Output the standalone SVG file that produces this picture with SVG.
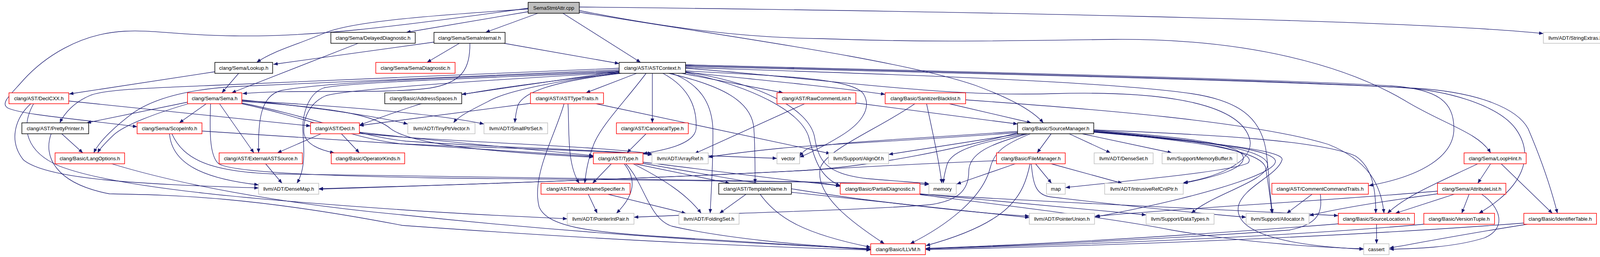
<svg xmlns="http://www.w3.org/2000/svg" width="4120" height="659" viewBox="0 0 4120 659">
<defs>
<marker id="ah" markerWidth="11" markerHeight="9" refX="11" refY="4.5" orient="auto" markerUnits="userSpaceOnUse"><path d="M0,0 L11,4.5 L0,9 z" fill="#191970"/></marker>
<style>
.node rect{fill:#fff;stroke-width:1.5}
.node.r rect{stroke:#ff0000}
.node.k rect{stroke:#000}
.node.g rect{stroke:#bfbfbf}
.node.root rect{fill:#bfbfbf;stroke:#000}
.node text{font-family:"Liberation Sans",Arial,Helvetica,sans-serif;font-size:13px;text-anchor:middle;fill:#000}
.edges path{fill:none;stroke:#191970;stroke-width:1.3;marker-end:url(#ah)}
</style>
</defs>
<rect x="0" y="0" width="4120" height="659" fill="#fff"/>
<g id="edges" class="edges">
<path d="M1483,18 C2400,28 3600,50 3951,86"/>
<path d="M1483,27 C1700,70 1900,97 2100,99 C2400,110 2600,104 2850,101 C3200,98 3450,170 3600,260 C3700,320 3785,340 3816,392"/>
<path d="M1483,31 C1800,85 2300,150 2500,220 C2580,250 2640,280 2671,315"/>
<path d="M1441,34 L1640,160"/>
<path d="M1377,34 L1243,83"/>
<path d="M1352,30 L1040,83"/>
<path d="M1352,23 C1100,40 900,55 830,85 C760,115 700,130 657,160"/>
<path d="M1352,21 C1000,70 800,95 600,92 C450,90 390,76 320,80 C200,86 110,150 60,205 C25,245 0,265 20,277 C60,295 200,305 351,325"/>
<path d="M1111,108 L700,165"/>
<path d="M1176,111 L1093,160"/>
<path d="M1203,111 C1203,175 1185,212 1100,226 C980,242 760,228 621,240"/>
<path d="M1290,111 L1585,163"/>
<path d="M917,111 L593,238"/>
<path d="M550,184 L177,241"/>
<path d="M611,188 L568,238"/>
<path d="M480,262 L222,315"/>
<path d="M528,266 L459,315"/>
<path d="M482,266 C400,290 320,320 292,345 C272,364 256,380 250,392"/>
<path d="M1585,179 C1200,195 800,212 600,222 C470,230 390,255 340,290 C300,320 255,360 240,392"/>
<path d="M562,266 L650,392"/>
<path d="M1585,182 C1200,198 850,208 720,232 C670,245 660,300 662,392"/>
<path d="M539,266 C537,330 535,400 560,420 C600,445 900,452 1100,456 C1600,462 2100,465 2378,473"/>
<path d="M434,343 C440,420 520,458 662,474"/>
<path d="M440,343 C470,410 540,440 700,446 C1300,455 1900,462 2060,466 C2100,468 2130,473 2151,478"/>
<path d="M517,336 L1519,401"/>
<path d="M619,256 C800,275 950,295 1044,318"/>
<path d="M619,258 C800,268 1100,288 1239,318"/>
<path d="M619,260 C850,275 960,295 1000,330 C1060,375 1300,392 1519,403"/>
<path d="M619,264 C800,300 920,350 1040,362 C1300,380 1550,384 1669,397"/>
<path d="M619,266 C800,305 900,355 1030,369 C1400,385 1800,398 1989,406"/>
<path d="M822,343 L710,392"/>
<path d="M874,343 L920,392"/>
<path d="M920,339 C1100,360 1350,382 1519,399"/>
<path d="M920,342 C1150,365 1500,372 1669,394"/>
<path d="M176,259 L795,323"/>
<path d="M79,266 C40,300 20,360 60,410 C120,460 350,472 662,482"/>
<path d="M86,266 C50,330 70,390 150,425 C300,485 700,515 1030,538 C1200,550 1350,556 1452,561"/>
<path d="M158,343 L212,392"/>
<path d="M131,343 C110,400 140,470 280,497 C450,500 650,505 1030,578 C1500,612 1900,632 2229,641"/>
<path d="M286,420 C450,470 700,520 1030,551 C1400,590 1800,620 2229,638"/>
<path d="M680,420 L722,470"/>
<path d="M1585,175 C1300,185 900,205 591,217 C400,225 270,228 230,245 C190,262 165,290 153,315"/>
<path d="M1585,184 C1250,200 900,210 830,225 C785,240 775,300 775,330 C777,370 785,430 760,470"/>
<path d="M1585,186 C1250,205 900,228 835,245 C795,262 775,300 778,340 C781,370 820,385 856,392"/>
<path d="M1585,183 L1182,242"/>
<path d="M1630,188 L1500,238"/>
<path d="M1670,188 L1670,315"/>
<path d="M1585,186 C1450,205 1300,230 1250,260 C1200,285 1172,300 1161,315"/>
<path d="M1590,188 C1420,208 1340,235 1326,270 C1320,290 1319,302 1318,315"/>
<path d="M1585,187 C1350,215 1150,240 1050,275 C990,295 950,310 920,321"/>
<path d="M1697,188 C1760,222 1785,270 1782,330 C1778,370 1700,385 1646,394"/>
<path d="M1654,188 C1600,260 1540,320 1520,370 C1505,410 1500,440 1497,470"/>
<path d="M1454,266 C1458,330 1450,420 1483,470"/>
<path d="M1444,266 C1420,350 1360,450 1380,530 C1400,580 1500,595 1700,607 C1900,620 2100,632 2229,640"/>
<path d="M1712,188 C1850,220 1925,260 1930,330 C1933,380 1933,420 1933,470"/>
<path d="M1720,188 C1790,215 1822,262 1825,330 C1826,420 1820,500 1818,547"/>
<path d="M1745,188 L2005,238"/>
<path d="M1755,185 C1950,205 2150,225 2266,242"/>
<path d="M1755,182 C2000,195 2180,200 2210,240 C2235,280 2200,320 2150,350 C2100,380 2065,396 2047,403"/>
<path d="M1755,184 C1950,215 2070,280 2085,350 C2095,410 2110,445 2220,458 C2300,465 2350,468 2378,471"/>
<path d="M1755,186 C1940,225 2050,290 2070,350 C2085,410 2100,455 2151,476"/>
<path d="M1755,166 C2300,180 3200,200 3560,220 C3680,228 3722,260 3722,330 C3722,400 3640,452 3504,476"/>
<path d="M1755,168 C2300,182 3200,202 3580,224 C3720,232 3840,275 3880,330 C3930,400 3900,480 3786,547"/>
<path d="M1755,170 C2300,184 3200,204 3620,226 C3790,236 3885,280 3912,330 C3942,400 3970,480 3987,547"/>
<path d="M1755,175 C2100,200 2400,250 2700,240 C3000,232 3180,270 3200,360 C3210,420 3100,458 3030,468"/>
<path d="M1755,173 C2200,188 2800,205 3050,240 C3170,258 3225,300 3240,380 C3248,430 3250,500 3258,547"/>
<path d="M3816,420 L3783,470"/>
<path d="M3783,420 C3700,460 3600,500 3552,547"/>
<path d="M3843,420 L3974,547"/>
<path d="M3680,490 C3400,515 3000,535 2802,555"/>
<path d="M3680,497 C3550,515 3420,535 3352,553"/>
<path d="M3723,498 L3572,547"/>
<path d="M3761,498 L3742,547"/>
<path d="M3793,498 C3840,530 3860,585 3800,610 C3720,635 3620,638 3557,639"/>
<path d="M3359,498 L3294,547"/>
<path d="M3380,498 C3385,540 3380,575 3300,590 C3000,612 2600,630 2370,638"/>
<path d="M3524,575 L3524,625"/>
<path d="M3426,574 C3100,600 2700,625 2370,637"/>
<path d="M3645,575 C3300,606 2800,626 2370,638"/>
<path d="M3901,572 C3400,610 2800,631 2370,640"/>
<path d="M3910,575 C3750,600 3620,625 3557,636"/>
<path d="M2691,343 L2655,392"/>
<path d="M2737,343 L2843,392"/>
<path d="M2770,343 L3000,392"/>
<path d="M2612,343 L2275,396"/>
<path d="M2625,343 C2520,365 2440,380 2425,420 C2418,445 2415,460 2415,470"/>
<path d="M2605,337 C2350,355 2120,365 2070,380 C2058,386 2052,393 2047,401"/>
<path d="M2605,340 C2350,360 2100,370 2000,380 C1900,390 1850,397 1813,403"/>
<path d="M2605,341 C2450,380 2250,425 2060,437 C1700,456 1200,473 816,485"/>
<path d="M2551,412 C2400,418 2250,425 2060,437 C1700,456 1200,473 816,484"/>
<path d="M2631,343 C2530,370 2480,395 2480,440 C2480,490 2450,515 2380,525 C2200,540 1800,548 1623,557"/>
<path d="M2638,343 C2570,370 2545,390 2535,430 C2515,510 2420,580 2330,625"/>
<path d="M2800,333 C3100,345 3380,360 3470,400 C3515,430 3522,490 3522,547"/>
<path d="M2800,334 C3000,350 3170,365 3182,400 C3192,430 3120,452 3029,470"/>
<path d="M2800,337 C3100,360 3250,385 3245,425 C3240,465 3100,500 3050,547"/>
<path d="M2800,338 C3100,362 3270,385 3265,415 C3260,450 3050,510 2805,556"/>
<path d="M2800,338 C3100,365 3230,390 3240,430 C3248,480 3254,520 3256,547"/>
<path d="M2800,339 C3100,365 3290,385 3282,410 C3270,450 3180,480 3170,530 C3160,600 3300,630 3491,639"/>
<path d="M2800,336 C3100,360 3220,390 3195,418 C3150,440 2900,462 2728,481"/>
<path d="M2599,420 L2449,472"/>
<path d="M2651,420 L2692,470"/>
<path d="M2691,420 L2873,470"/>
<path d="M2637,420 C2620,500 2590,570 2370,630"/>
<path d="M2640,420 C2645,470 2650,500 2690,505 C2900,530 3050,545 3190,557"/>
<path d="M2430,266 L2640,315"/>
<path d="M2342,266 C2250,330 2120,380 2100,430 C2085,500 2180,570 2264,625"/>
<path d="M2372,266 C2390,350 2405,420 2411,470"/>
<path d="M2472,256 C2800,280 3200,310 3400,370 C3500,410 3535,470 3543,547"/>
<path d="M2191,264 L2605,318"/>
<path d="M2060,266 L1778,394"/>
<path d="M1358,265 L920,322"/>
<path d="M1526,266 L2126,394"/>
<path d="M1654,343 L1605,392"/>
<path d="M1565,420 L1517,470"/>
<path d="M1598,420 C1630,460 1625,500 1578,547"/>
<path d="M1602,420 C1650,470 1660,560 1720,580 C1850,610 2050,630 2229,638"/>
<path d="M1621,420 C1700,460 1760,500 1795,547"/>
<path d="M1625,420 L1868,470"/>
<path d="M1646,416 C1850,440 2000,462 2151,476"/>
<path d="M1646,419 C1850,455 2050,490 2200,510 C2400,535 2550,550 2635,554"/>
<path d="M1910,498 L1842,547"/>
<path d="M1946,498 C1990,560 2060,600 2229,634"/>
<path d="M2026,493 C2250,515 2450,540 2635,558"/>
<path d="M1506,498 L1529,547"/>
<path d="M1556,498 L1756,547"/>
<path d="M2355,497 C2600,520 2800,540 2934,551"/>
<path d="M2355,498 C2800,525 3200,540 3426,553"/>
<path d="M2355,499 C2600,530 2850,560 3000,590 C3200,625 3400,635 3491,638"/>
</g>
<g id="n_root" class="node root"><rect x="1352" y="6" width="131" height="28"/><text x="1417.5" y="24.5">SemaStmtAttr.cpp</text></g>
<g id="n_delayeddiag" class="node k"><rect x="847" y="83" width="216" height="28"/><text x="955" y="101.5">clang/Sema/DelayedDiagnostic.h</text></g>
<g id="n_semainternal" class="node k"><rect x="1111" y="83" width="182" height="28"/><text x="1202" y="101.5">clang/Sema/SemaInternal.h</text></g>
<g id="n_stringextras" class="node g"><rect x="3951" y="83" width="164" height="28"/><text x="4033" y="101.5">llvm/ADT/StringExtras.h</text></g>
<g id="n_lookup" class="node k"><rect x="550" y="160" width="148" height="28"/><text x="624" y="178.5">clang/Sema/Lookup.h</text></g>
<g id="n_semadiag" class="node r"><rect x="962" y="160" width="203" height="28"/><text x="1063.5" y="178.5">clang/Sema/SemaDiagnostic.h</text></g>
<g id="n_astcontext" class="node k"><rect x="1585" y="160" width="170" height="28"/><text x="1670" y="178.5">clang/AST/ASTContext.h</text></g>
<g id="n_declcxx" class="node r"><rect x="23" y="238" width="153" height="28"/><text x="99.5" y="256.5">clang/AST/DeclCXX.h</text></g>
<g id="n_sema" class="node r"><rect x="480" y="238" width="139" height="28"/><text x="549.5" y="256.5">clang/Sema/Sema.h</text></g>
<g id="n_addrspaces" class="node k"><rect x="985" y="238" width="197" height="28"/><text x="1083.5" y="256.5">clang/Basic/AddressSpaces.h</text></g>
<g id="n_asttypetraits" class="node r"><rect x="1358" y="238" width="187" height="28"/><text x="1451.5" y="256.5">clang/AST/ASTTypeTraits.h</text></g>
<g id="n_rawcomment" class="node r"><rect x="1989" y="238" width="202" height="28"/><text x="2090" y="256.5">clang/AST/RawCommentList.h</text></g>
<g id="n_sanitizer" class="node r"><rect x="2266" y="238" width="206" height="28"/><text x="2369" y="256.5">clang/Basic/SanitizerBlacklist.h</text></g>
<g id="n_prettyprinter" class="node k"><rect x="56" y="315" width="171" height="28"/><text x="141.5" y="333.5">clang/AST/PrettyPrinter.h</text></g>
<g id="n_scopeinfo" class="node r"><rect x="351" y="315" width="166" height="28"/><text x="434" y="333.5">clang/Sema/ScopeInfo.h</text></g>
<g id="n_decl" class="node r"><rect x="795" y="315" width="125" height="28"/><text x="857.5" y="333.5">clang/AST/Decl.h</text></g>
<g id="n_tinyptrvector" class="node g"><rect x="1044" y="315" width="172" height="28"/><text x="1130" y="333.5">llvm/ADT/TinyPtrVector.h</text></g>
<g id="n_smallptrset" class="node g"><rect x="1239" y="315" width="163" height="28"/><text x="1320.5" y="333.5">llvm/ADT/SmallPtrSet.h</text></g>
<g id="n_canonicaltype" class="node r"><rect x="1578" y="315" width="184" height="28"/><text x="1670" y="333.5">clang/AST/CanonicalType.h</text></g>
<g id="n_sourcemanager" class="node k"><rect x="2605" y="315" width="195" height="28"/><text x="2702.5" y="333.5">clang/Basic/SourceManager.h</text></g>
<g id="n_langoptions" class="node r"><rect x="141" y="392" width="178" height="28"/><text x="230" y="410.5">clang/Basic/LangOptions.h</text></g>
<g id="n_externalast" class="node r"><rect x="561" y="392" width="213" height="28"/><text x="667.5" y="410.5">clang/AST/ExternalASTSource.h</text></g>
<g id="n_operatorkinds" class="node r"><rect x="848" y="392" width="188" height="28"/><text x="942" y="410.5">clang/Basic/OperatorKinds.h</text></g>
<g id="n_type" class="node r"><rect x="1519" y="392" width="127" height="28"/><text x="1582.5" y="410.5">clang/AST/Type.h</text></g>
<g id="n_arrayref" class="node g"><rect x="1669" y="392" width="144" height="28"/><text x="1741" y="410.5">llvm/ADT/ArrayRef.h</text></g>
<g id="n_vector" class="node g"><rect x="1989" y="392" width="58" height="28"/><text x="2018" y="410.5">vector</text></g>
<g id="n_alignof" class="node g"><rect x="2121" y="392" width="154" height="28"/><text x="2198" y="410.5">llvm/Support/AlignOf.h</text></g>
<g id="n_filemanager" class="node r"><rect x="2551" y="392" width="176" height="28"/><text x="2639" y="410.5">clang/Basic/FileManager.h</text></g>
<g id="n_denseset" class="node g"><rect x="2801" y="392" width="151" height="28"/><text x="2876.5" y="410.5">llvm/ADT/DenseSet.h</text></g>
<g id="n_memorybuffer" class="node g"><rect x="2975" y="392" width="192" height="28"/><text x="3071" y="410.5">llvm/Support/MemoryBuffer.h</text></g>
<g id="n_loophint" class="node r"><rect x="3748" y="392" width="159" height="28"/><text x="3827.5" y="410.5">clang/Sema/LoopHint.h</text></g>
<g id="n_densemap" class="node g"><rect x="662" y="470" width="154" height="28"/><text x="739" y="488.5">llvm/ADT/DenseMap.h</text></g>
<g id="n_nns" class="node r"><rect x="1385" y="470" width="228" height="28"/><text x="1499" y="488.5">clang/AST/NestedNameSpecifier.h</text></g>
<g id="n_templatename" class="node k"><rect x="1840" y="470" width="186" height="28"/><text x="1933" y="488.5">clang/AST/TemplateName.h</text></g>
<g id="n_partialdiag" class="node r"><rect x="2151" y="470" width="204" height="28"/><text x="2253" y="488.5">clang/Basic/PartialDiagnostic.h</text></g>
<g id="n_memory" class="node g"><rect x="2378" y="470" width="70" height="28"/><text x="2413" y="488.5">memory</text></g>
<g id="n_map" class="node g"><rect x="2679" y="470" width="48" height="28"/><text x="2703" y="488.5">map</text></g>
<g id="n_intrusive" class="node g"><rect x="2828" y="470" width="201" height="28"/><text x="2928.5" y="488.5">llvm/ADT/IntrusiveRefCntPtr.h</text></g>
<g id="n_commentcmd" class="node r"><rect x="3256" y="470" width="247" height="28"/><text x="3379.5" y="488.5">clang/AST/CommentCommandTraits.h</text></g>
<g id="n_attributelist" class="node r"><rect x="3680" y="470" width="175" height="28"/><text x="3767.5" y="488.5">clang/Sema/AttributeList.h</text></g>
<g id="n_pointerintpair" class="node g"><rect x="1452" y="547" width="171" height="28"/><text x="1537.5" y="565.5">llvm/ADT/PointerIntPair.h</text></g>
<g id="n_foldingset" class="node g"><rect x="1738" y="547" width="154" height="28"/><text x="1815" y="565.5">llvm/ADT/FoldingSet.h</text></g>
<g id="n_pointerunion" class="node g"><rect x="2635" y="547" width="167" height="28"/><text x="2718.5" y="565.5">llvm/ADT/PointerUnion.h</text></g>
<g id="n_datatypes" class="node g"><rect x="2934" y="547" width="174" height="28"/><text x="3021" y="565.5">llvm/Support/DataTypes.h</text></g>
<g id="n_allocator" class="node g"><rect x="3190" y="547" width="161" height="28"/><text x="3270.5" y="565.5">llvm/Support/Allocator.h</text></g>
<g id="n_sourcelocation" class="node r"><rect x="3426" y="547" width="195" height="28"/><text x="3523.5" y="565.5">clang/Basic/SourceLocation.h</text></g>
<g id="n_versiontuple" class="node r"><rect x="3645" y="547" width="181" height="28"/><text x="3735.5" y="565.5">clang/Basic/VersionTuple.h</text></g>
<g id="n_identifiertable" class="node r"><rect x="3901" y="547" width="186" height="28"/><text x="3994" y="565.5">clang/Basic/IdentifierTable.h</text></g>
<g id="n_llvm" class="node r"><rect x="2229" y="625" width="140" height="28"/><text x="2299" y="643.5">clang/Basic/LLVM.h</text></g>
<g id="n_cassert" class="node g"><rect x="3491" y="625" width="65" height="28"/><text x="3523.5" y="643.5">cassert</text></g>
</svg>
